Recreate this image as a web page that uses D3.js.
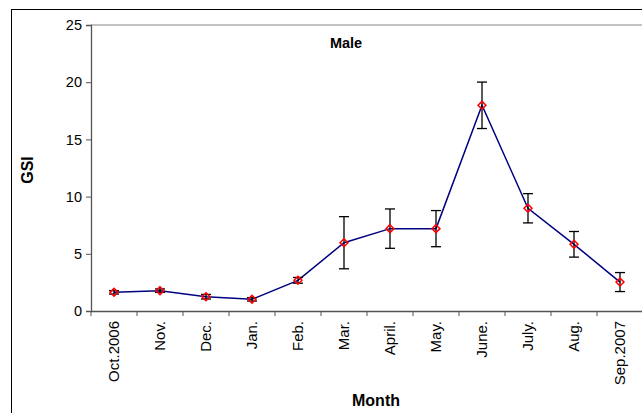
<!DOCTYPE html>
<html>
<head>
<meta charset="utf-8">
<script src="https://cdn.jsdelivr.net/npm/d3@7"></script>
<style>
  body { margin: 0; background: #fff; }
  text { font-family: "Liberation Sans", Arial, sans-serif; }
</style>
</head>
<body>
<div id="chart"></div>
<script>
// data
const months = ["Oct.2006", "Nov.", "Dec.", "Jan.", "Feb.", "Mar.", "April.", "May.", "June.", "July.", "Aug.", "Sep.2007"];
const gsi = [1.63, 1.78, 1.25, 1.02, 2.68, 5.97, 7.2, 7.2, 17.98, 8.98, 5.83, 2.53];
const gsiErr = [0.15, 0.15, 0.2, 0.15, 0.25, 2.28, 1.72, 1.58, 2.03, 1.28, 1.12, 0.83];
const yTicks = [0, 5, 10, 15, 20, 25];

const W = 642, H = 413;
const margin = { top: 25, right: -1, bottom: 102, left: 91 };
const width = W - margin.left - margin.right;
const height = H - margin.top - margin.bottom;

const root = d3.select('#chart').append('svg')
    .attr('width', W)
    .attr('height', H);

// outer chart border (right/bottom fall outside the picture)
root.append('rect')
    .attr('x', 11.5).attr('y', 9.5)
    .attr('width', W + 20).attr('height', H + 20)
    .attr('fill', 'none')
    .attr('stroke', '#000')
    .attr('stroke-width', 1);

const svg = root.append('g')
    .attr('transform', `translate(${margin.left},${margin.top})`);

const x = d3.scaleBand().domain(months).range([0, width]);
const y = d3.scaleLinear().domain([0, 25]).range([height, 0]);

// plot area top border
svg.append('line')
    .attr('x1', 0).attr('x2', width + 5)
    .attr('y1', y(25)).attr('y2', y(25))
    .attr('stroke', '#888')
    .attr('stroke-width', 1.2);

// y axis
const yAxis = svg.append('g')
    .call(d3.axisLeft(y).tickValues(yTicks).tickSize(5).tickPadding(4));
yAxis.select('.domain').attr('stroke', '#555').attr('stroke-width', 1.3);
yAxis.selectAll('.tick line').attr('stroke', '#555');
yAxis.selectAll('text').style('font-size', '14.5px').attr('fill', '#000');

// x axis: ticks between categories
const xAxis = svg.append('g')
    .attr('transform', `translate(0,${height})`)
    .call(d3.axisBottom(x).tickSize(0).tickSizeOuter(0));
xAxis.select('.domain').attr('stroke', '#555').attr('stroke-width', 1.3);
xAxis.selectAll('.tick text')
    .attr('transform', 'rotate(-90)')
    .attr('text-anchor', 'end')
    .attr('x', -10)
    .attr('y', 0)
    .attr('dy', '0.35em')
    .style('font-size', '15px')
    .attr('fill', '#000');
xAxis.selectAll('.sep')
    .data(months)
    .join('line')
    .attr('class', 'sep')
    .attr('x1', d => x(d)).attr('x2', d => x(d))
    .attr('y1', 0).attr('y2', 5)
    .attr('stroke', '#555');

const cx = d => x(d) + x.bandwidth() / 2;

// line
const line = d3.line()
    .x((d, i) => cx(months[i]))
    .y(d => y(d));
svg.append('path')
    .datum(gsi)
    .attr('fill', 'none')
    .attr('stroke', '#000080')
    .attr('stroke-width', 1.5)
    .attr('d', line);

// error bars
const err = svg.append('g').attr('stroke', '#000').attr('stroke-width', 1.3);
gsi.forEach((v, i) => {
    const px = cx(months[i]);
    const lo = y(v - gsiErr[i]), hi = y(v + gsiErr[i]);
    err.append('line').attr('x1', px).attr('x2', px).attr('y1', lo).attr('y2', hi);
    err.append('line').attr('x1', px - 5).attr('x2', px + 5).attr('y1', lo).attr('y2', lo);
    err.append('line').attr('x1', px - 5).attr('x2', px + 5).attr('y1', hi).attr('y2', hi);
});

// diamond markers
const diamond = d3.symbol().type(d3.symbolDiamond2).size(40);
svg.selectAll('.pt')
    .data(gsi)
    .join('path')
    .attr('class', 'pt')
    .attr('transform', (d, i) => `translate(${cx(months[i])},${y(d)})`)
    .attr('d', diamond)
    .attr('fill', 'none')
    .attr('stroke', '#ff0000')
    .attr('stroke-width', 1.5);

// labels
svg.append('text')
    .attr('x', 255).attr('y', 23)
    .attr('text-anchor', 'middle')
    .style('font-size', '14.5px')
    .style('font-weight', 'bold')
    .text('Male');

svg.append('text')
    .attr('x', 285).attr('y', height + 95)
    .attr('text-anchor', 'middle')
    .style('font-size', '16px')
    .style('font-weight', 'bold')
    .text('Month');

root.append('text')
    .attr('transform', 'translate(33,170) rotate(-90)')
    .attr('text-anchor', 'middle')
    .style('font-size', '16px')
    .style('font-weight', 'bold')
    .text('GSI');
</script>
</body>
</html>
